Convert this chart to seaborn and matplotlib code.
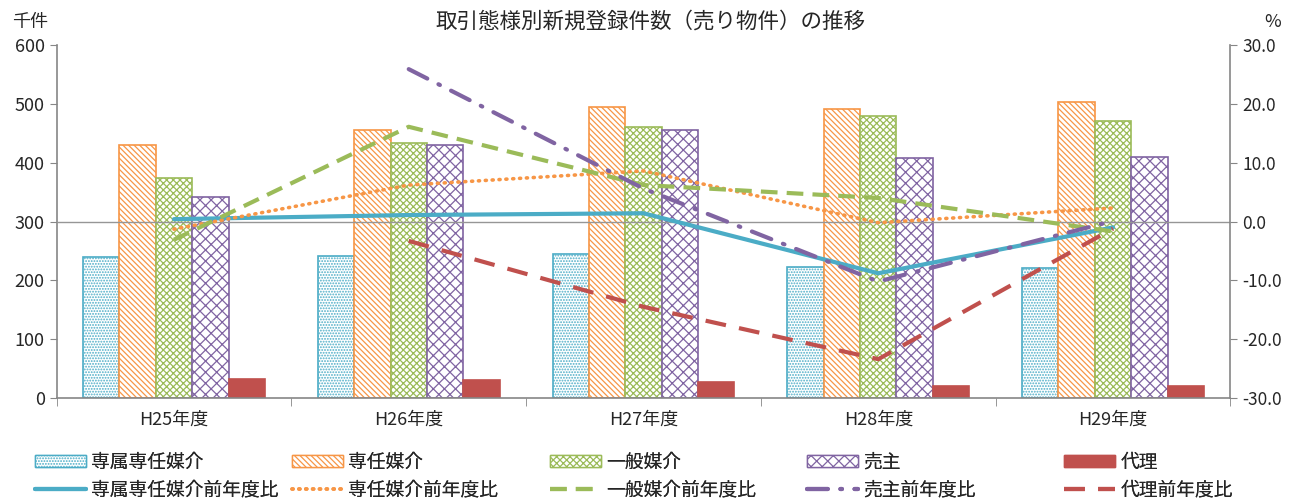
import matplotlib
matplotlib.use('Agg')
import matplotlib.pyplot as plt
from matplotlib.patches import Patch
from matplotlib.lines import Line2D
import numpy as np
import pandas as pd
import seaborn as sns

sns.set_style('white')
plt.rcParams['font.family'] = ['Noto Sans CJK JP', 'DejaVu Sans']
plt.rcParams['hatch.linewidth'] = 0.9

years = ['H25年度', 'H26年度', 'H27年度', 'H28年度', 'H29年度']
bar_names = ['専属専任媒介', '専任媒介', '一般媒介', '売主', '代理']
line_names = ['専属専任媒介前年度比', '専任媒介前年度比', '一般媒介前年度比', '売主前年度比', '代理前年度比']

# 千件
senzoku = [240, 242, 245, 223, 221]
sennin = [430, 455, 494, 492, 503]
ippan = [374, 433, 461, 479, 470]
urinushi = [342, 430, 456, 408, 410]
dairi = [32, 31, 27, 21, 20]

# 前年度比 %
senzoku_r = [0.4, 1.1, 1.4, -8.8, -1.0]
sennin_r = [-1.3, 6.2, 8.6, -0.2, 2.3]
ippan_r = [-3.1, 16.1, 6.2, 4.0, -1.7]
urinushi_r = [np.nan, 25.9, 5.6, -10.2, 0.1]
dairi_r = [np.nan, -3.3, -14.5, -23.4, -1.2]

colors = ['#4BACC6', '#F79646', '#9BBB59', '#8064A2', '#C0504D']
hatches = ['......', '\\' * 6, 'xxxxx', 'xxx', None]

bars = pd.DataFrame({'year': np.repeat(years, 5),
                     'type': bar_names * 5,
                     'value': np.array([senzoku, sennin, ippan, urinushi, dairi]).T.ravel()})

fig = plt.figure(figsize=(13, 4.99), dpi=100)
ax = fig.add_axes([0.0435, 0.2024, 0.903, 0.7074])
sns.barplot(data=bars, x='year', y='value', hue='type', hue_order=bar_names,
            palette=colors, width=0.775, gap=0, ax=ax, legend=False,
            errorbar=None, linewidth=1.2, saturation=1)

for cont, c, h in zip(ax.containers, colors, hatches):
    for p in cont:
        if h is None:
            p.set_facecolor(c)
            p.set_edgecolor(c)
        else:
            p.set_facecolor('white')
            p.set_edgecolor(c)
            p.set_hatch(h)

ax.set_ylim(0, 600)
ax.set_xlim(-0.5, 4.5)
ax.set_yticks(range(0, 601, 100))
ax.set_xlabel('')
ax.set_ylabel('')
ax.set_xticks(np.arange(-0.5, 5, 1), minor=True)
ax.tick_params(axis='x', which='major', length=0, pad=9, labelsize=13)
ax.tick_params(axis='x', which='minor', length=6, color='#868686', direction='out', bottom=True)
ax.tick_params(axis='y', length=5, color='#868686', direction='out', left=True, labelsize=13)
for s in ['top', 'right']:
    ax.spines[s].set_visible(False)
for s in ['left', 'bottom']:
    ax.spines[s].set_color('#868686')
    ax.spines[s].set_linewidth(1.2)

ax2 = ax.twinx()
ax2.set_ylim(-30, 30)
ax2.set_yticks(range(-30, 31, 10))
ax2.set_yticklabels([f'{v:.1f}' for v in range(-30, 31, 10)])
ax2.tick_params(axis='y', length=5, color='#868686', direction='out', right=True, labelsize=12.5)
for s in ['top', 'left', 'bottom']:
    ax2.spines[s].set_visible(False)
ax2.spines['right'].set_color('#868686')
ax2.spines['right'].set_linewidth(1.2)
ax2.axhline(0, color='#969696', lw=1.0, zorder=1)

pos = np.arange(len(years))
line_vals = [senzoku_r, sennin_r, ippan_r, urinushi_r, dairi_r]
line_styles = [
    dict(lw=3.0, ls='-'),
    dict(lw=2.6, ls=(0, (0.3, 1.6)), dash_capstyle='round'),
    dict(lw=3.0, ls=(0, (4, 2.2))),
    dict(lw=3.0, ls=(0, (5, 3, 0.4, 3)), dash_capstyle='round'),
    dict(lw=3.0, ls=(0, (5, 3.2))),
]
for vals, c, st in zip(line_vals, colors, line_styles):
    d = pd.DataFrame({'x': pos, 'y': vals}).dropna()
    sns.lineplot(data=d, x='x', y='y', ax=ax2, color=c, **st)
ax2.set_ylabel('')
ax2.set_xlabel('')
ax2.set_xlim(-0.5, 4.5)

fig.text(0.009, 0.955, '千件', fontsize=13, ha='left', va='center')
fig.text(0.979, 0.955, '%', fontsize=13, ha='center', va='center')
fig.text(0.5, 0.956, '取引態様別新規登録件数（売り物件）の推移', fontsize=15.5, ha='center', va='center')

# legend: 5 columns x 2 rows, placed one entry at a time
col_x = [35, 292, 550, 807, 1064]
row_y = [462, 490]
W, H = 1300, 499
for i in range(5):
    if hatches[i] is None:
        bh = Patch(facecolor=colors[i], edgecolor=colors[i])
    else:
        bh = Patch(facecolor='white', edgecolor=colors[i], hatch=hatches[i])
    st = line_styles[i]
    lh = Line2D([0], [0], color=colors[i], lw=st['lw'], ls=st['ls'],
                dash_capstyle=st.get('dash_capstyle', 'butt'))
    for h, lab, yy in [(bh, bar_names[i], row_y[0]), (lh, line_names[i], row_y[1])]:
        lg = fig.legend([h], [lab], loc='center left',
                        bbox_to_anchor=(col_x[i] / W, 1 - yy / H),
                        frameon=False, fontsize=13.5, handlelength=2.7, handleheight=0.55,
                        handletextpad=0.3, borderpad=0, borderaxespad=0)
        fig.add_artist(lg)

fig.savefig('out.png', dpi=100)
